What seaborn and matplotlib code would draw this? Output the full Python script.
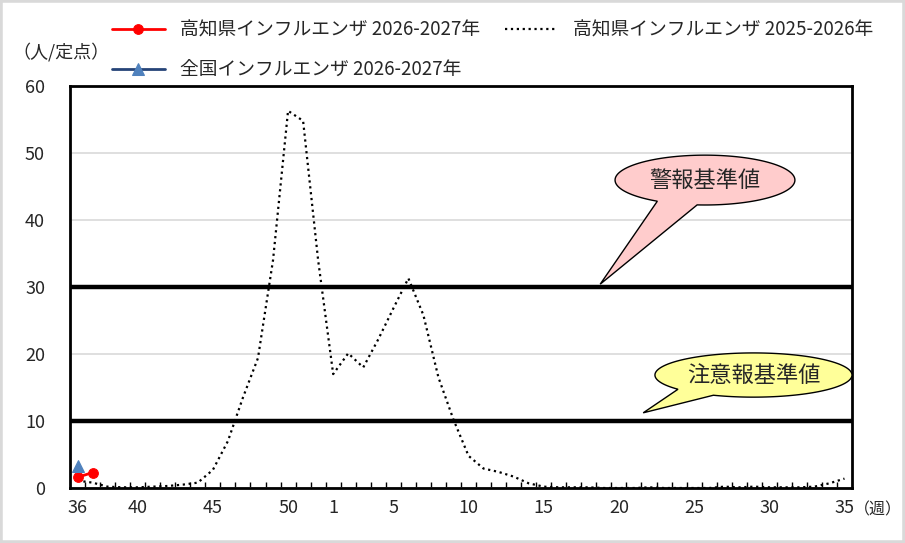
import numpy as np
import pandas as pd
import matplotlib
matplotlib.use("Agg")
import matplotlib.pyplot as plt
from matplotlib.patches import Polygon, Rectangle
import seaborn as sns

# ---- data ----
weeks = [str(w) for w in range(36, 53)] + [str(w) for w in range(1, 36)]
tick_weeks = ["36", "40", "45", "50", "1", "5", "10", "15", "20", "25", "30", "35"]

kochi_2526 = [1.1, 0.8, 0.2, 0.1, 0.1, 0.2, 0.3, 0.5, 0.8, 2.7,
              7.0, 13.5, 19.4, 34.0, 56.3, 54.8, 34.0, 17.0, 20.1, 18.0,
              22.2, 26.8, 31.3, 25.8, 16.5, 10.2, 4.8, 2.9, 2.4, 1.7,
              0.7, 0.2, 0.1, 0.1, 0.1, 0.0, 0.0, 0.0, 0.1, 0.0,
              0.0, 0.0, 0.0, 0.2, 0.1, 0.2, 0.1, 0.1, 0.1, 0.2,
              0.7, 1.4]
kochi_2627_weeks = ["36", "37"]
kochi_2627 = [1.6, 2.3]
japan_2627_weeks = ["36"]
japan_2627 = [3.3]

warning_level = 30
advisory_level = 10

label_kochi_2627 = "高知県インフルエンザ 2026-2027年"
label_kochi_2526 = "高知県インフルエンザ 2025-2026年"
label_japan_2627 = "全国インフルエンザ 2026-2027年"

df_prev = pd.DataFrame({"week": weeks, "value": kochi_2526})
df_kochi = pd.DataFrame({"week": kochi_2627_weeks, "value": kochi_2627})
df_japan = pd.DataFrame({"week": japan_2627_weeks, "value": japan_2627})

# ---- style ----
sns.set_theme(style="white")
plt.rcParams["font.family"] = ["Noto Sans CJK JP", "DejaVu Sans"]

fig = plt.figure(figsize=(9.05, 5.43), dpi=100)
ax = fig.add_axes([70 / 905, 1 - 488 / 543, 782 / 905, 402 / 543])

sns.lineplot(data=df_prev, x="week", y="value", ax=ax, color="black",
             linestyle=":", linewidth=1.6, label=label_kochi_2526, zorder=4)
sns.lineplot(data=df_kochi, x="week", y="value", ax=ax, color="#FF0000",
             linewidth=2, marker="o", markersize=7, markeredgecolor="#FF0000",
             label=label_kochi_2627, zorder=6)
sns.lineplot(data=df_japan, x="week", y="value", ax=ax, color="#264478",
             linewidth=2, marker="^", markersize=8, markerfacecolor="#4F81BD",
             markeredgecolor="#4F81BD", label=label_japan_2627, zorder=6)

ax.axhline(warning_level, color="black", linewidth=3.2, zorder=3)
ax.axhline(advisory_level, color="black", linewidth=3.2, zorder=3)

ax.set_xlim(-0.5, len(weeks) - 0.5)
ax.set_ylim(0, 60)
ax.set_yticks(np.arange(0, 61, 10))
ax.set_xticks([weeks.index(w) for w in tick_weeks])
ax.set_xticklabels(tick_weeks)
ax.set_xticks(np.arange(0.5, len(weeks) - 1, 1), minor=True)
ax.tick_params(axis="x", which="major", length=0, pad=8, labelsize=13)
ax.tick_params(axis="x", which="minor", direction="in", length=4, width=1,
               color="black", bottom=True)
ax.tick_params(axis="y", length=0, pad=18, labelsize=13)
ax.set_xlabel("")
ax.set_ylabel("")
ax.grid(axis="y", color="#D9D9D9", linewidth=1.2)
ax.set_axisbelow(True)
for s in ax.spines.values():
    s.set_color("black")
    s.set_linewidth(2)


def callout(ax, cx, cy, a, b, t1, t2, tip, text, fc):
    t = np.radians(np.linspace(t2, t1 + 360, 150))
    pts = np.column_stack([cx + a * np.cos(t), cy + b * np.sin(t)])
    pts = np.vstack([pts, tip])
    ax.add_patch(Polygon(pts, closed=True, transform=ax.transAxes, facecolor=fc,
                         edgecolor="black", linewidth=1, clip_on=False, zorder=7))
    ax.text(cx, cy, text, transform=ax.transAxes, ha="center", va="center",
            fontsize=16, zorder=8)


callout(ax, 0.812, 0.766, 0.115, 0.062, 238, 265, (0.678, 0.507), "警報基準値", "#FFCCCC")
callout(ax, 0.874, 0.281, 0.126, 0.055, 220, 246, (0.733, 0.187), "注意報基準値", "#FFFF99")

# legend above the plot
handles, labels = ax.get_legend_handles_labels()
ax.get_legend().remove()
order = [labels.index(label_kochi_2627), labels.index(label_japan_2627),
         labels.index(label_kochi_2526)]
fig.legend([handles[i] for i in order], [labels[i] for i in order],
           ncol=2, loc="upper left", bbox_to_anchor=(112 / 905, 1 - 20 / 543),
           frameon=False, fontsize=13.5, borderpad=0, borderaxespad=0,
           handlelength=2.8, handletextpad=0.85, columnspacing=1.3,
           labelspacing=1.0)

fig.text(12 / 905, 1 - 52 / 543, "（人/定点）", fontsize=13, ha="left", va="center")
fig.text(854 / 905, 1 - 510 / 543, "（週）", fontsize=11.5, ha="left", va="center")

fig.patches.append(Rectangle((0, 0), 1, 1, transform=fig.transFigure, fill=False,
                             edgecolor="#D9D9D9", linewidth=4))

fig.savefig("out.png", dpi=100)
